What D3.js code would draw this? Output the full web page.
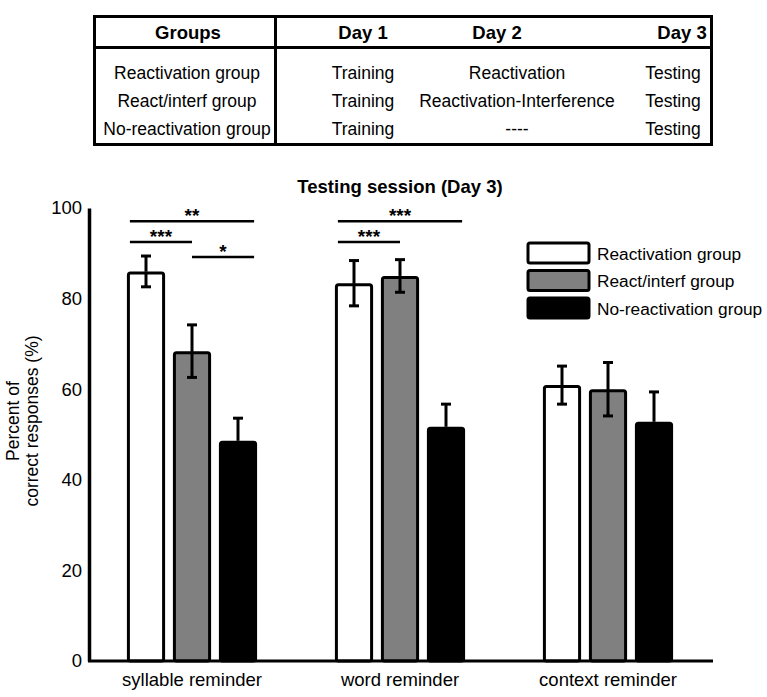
<!DOCTYPE html>
<html><head><meta charset="utf-8">
<script src="https://cdn.jsdelivr.net/npm/d3@7"></script>
<style>body{margin:0;background:#fff;} svg{display:block;font-family:"Liberation Sans",Arial,sans-serif;}</style>
</head><body>
<svg id="c" width="767" height="697"></svg>
<script>
// ---- data ----
const categories = ["syllable reminder", "word reminder", "context reminder"];
const groups = ["Reactivation group", "React/interf group", "No-reactivation group"];
const groupColors = ["#ffffff", "#808080", "#000000"];
const reactivationVals = [86.0, 83.4, 60.9];
const reactInterfVals = [68.4, 85.0, 60.0];
const noReactVals = [48.6, 51.7, 52.8];
const reactivationErr = [3.4, 5.0, 4.2];
const reactInterfErr = [5.8, 3.6, 5.9];
const noReactErr = [5.0, 5.0, 6.6];
const yTicks = [0, 20, 40, 60, 80, 100];
// significance brackets
const sigCategory = ["syllable reminder", "syllable reminder", "syllable reminder", "word reminder", "word reminder"];
const sigFrom = [0, 0, 1, 0, 0];
const sigFromSide = ["edge", "edge", "mid", "edge", "edge"];
const sigTo = [2, 1, 2, 2, 1];
const sigToSide = ["edge", "mid", "edge", "edge", "mid"];
const sigLevel = [97.1, 92.5, 89.2, 97.1, 92.5];
const sigLabel = ["**", "***", "*", "***", "***"];
// table
const tableHeader = ["Groups", "Day 1", "Day 2", "Day 3"];
const tableRows = [
  ["Reactivation group", "Training", "Reactivation", "Testing"],
  ["React/interf group", "Training", "Reactivation-Interference", "Testing"],
  ["No-reactivation group", "Training", "----", "Testing"]
];

const values = [reactivationVals, reactInterfVals, noReactVals];
const errs = [reactivationErr, reactInterfErr, noReactErr];

const svg = d3.select("#c");

// ---- table ----
const tb = svg.append("g");
tb.append("rect").attr("x", 94.5).attr("y", 16.5).attr("width", 617).attr("height", 128)
  .attr("fill", "none").attr("stroke", "#000").attr("stroke-width", 3);
tb.append("line").attr("x1", 94).attr("x2", 712).attr("y1", 47.5).attr("y2", 47.5).attr("stroke", "#000").attr("stroke-width", 3);
tb.append("line").attr("x1", 275.5).attr("x2", 275.5).attr("y1", 16).attr("y2", 145).attr("stroke", "#000").attr("stroke-width", 3);
const colX = [188, 363, 497, 682];
tb.selectAll("text.h").data(tableHeader).join("text").attr("class", "h")
  .attr("x", (d, i) => colX[i]).attr("y", 39).attr("text-anchor", "middle")
  .attr("font-size", 18.5).attr("font-weight", "bold").text(d => d);
const rowColX = [187, 363, 517, 673];
tableRows.forEach((r, ri) => {
  tb.selectAll("text.r" + ri).data(r).join("text").attr("class", "r" + ri)
    .attr("x", (d, i) => rowColX[i]).attr("y", 79 + ri * 28).attr("text-anchor", "middle")
    .attr("font-size", 17.5).text(d => d);
});

// ---- chart ----
const y = d3.scaleLinear().domain([0, 100]).range([661, 208]);
const x0 = d3.scaleBand().domain(categories).range([88, 712]).padding(0);
const x1 = d3.scaleBand().domain(d3.range(3)).range([-69, 69]).paddingInner(0.17).paddingOuter(0.085);

svg.append("text").attr("x", 400).attr("y", 193).attr("text-anchor", "middle")
  .attr("font-size", 18.5).attr("font-weight", "bold").text("Testing session (Day 3)");

// bars
const barData = [];
categories.forEach((c, ci) => groups.forEach((g, gi) => barData.push({c, ci, gi, v: values[gi][ci], e: errs[gi][ci]})));
const cx = d => x0(d.c) + x0.bandwidth() / 2 + x1(d.gi);
const bw = x1.bandwidth();

svg.append("g").selectAll("rect").data(barData).join("rect")
  .attr("x", d => cx(d) + 1.5).attr("width", bw - 3)
  .attr("y", d => y(d.v) + 1.5).attr("height", d => y(0) - y(d.v) - 1.5)
  .attr("rx", 2)
  .attr("fill", d => groupColors[d.gi]).attr("stroke", "#000").attr("stroke-width", 3);
// error bars
const eb2 = svg.append("g").attr("stroke", "#000").attr("stroke-width", 3);
barData.forEach(d => {
  const mx = cx(d) + bw / 2;
  eb2.append("line").attr("x1", mx).attr("x2", mx).attr("y1", y(d.v + d.e)).attr("y2", y(d.v));
  if (d.gi !== 2) {
    eb2.append("line").attr("x1", mx).attr("x2", mx).attr("y1", y(d.v)).attr("y2", y(d.v - d.e));
    eb2.append("line").attr("x1", mx - 5).attr("x2", mx + 5).attr("y1", y(d.v - d.e)).attr("y2", y(d.v - d.e));
  }
  eb2.append("line").attr("x1", mx - 5).attr("x2", mx + 5).attr("y1", y(d.v + d.e)).attr("y2", y(d.v + d.e));
});

// significance
const sig = svg.append("g");
sigCategory.forEach((c, i) => {
  const base = x0(c) + x0.bandwidth() / 2;
  const xa = sigFromSide[i] === "edge" ? base + x1(sigFrom[i]) + 3 : base + x1(sigFrom[i]) + bw / 2;
  const xb = sigToSide[i] === "edge" ? base + x1(sigTo[i]) + bw - 3 : base + x1(sigTo[i]) + bw / 2;
  sig.append("line").attr("x1", xa).attr("x2", xb).attr("y1", y(sigLevel[i])).attr("y2", y(sigLevel[i]))
    .attr("stroke", "#000").attr("stroke-width", 2.5);
  sig.append("text").attr("x", (xa + xb) / 2).attr("y", y(sigLevel[i]) + 1).attr("text-anchor", "middle")
    .attr("font-size", 19).attr("font-weight", "bold").text(sigLabel[i]);
});

// axes
const yAxis = d3.axisLeft(y).tickValues(yTicks).tickSize(0).tickPadding(7);
const ya = svg.append("g").attr("transform", "translate(89,0)").call(yAxis);
ya.select(".domain").attr("stroke-width", 3.5);
ya.selectAll("text").attr("font-size", 18.5).attr("font-family", "Liberation Sans, Arial, sans-serif").attr("fill", "#000");

const xAxis = d3.axisBottom(x0).tickSize(0).tickPadding(12);
const xa = svg.append("g").attr("transform", "translate(0,661)").call(xAxis);
xa.select(".domain").attr("d", "M88,0H713").attr("stroke-width", 3);
xa.selectAll("text").attr("font-size", 18.5).attr("font-family", "Liberation Sans, Arial, sans-serif").attr("fill", "#000");

// y label
const yl = svg.append("text").attr("transform", "translate(19,421) rotate(-90)").attr("text-anchor", "middle").attr("font-size", 17.5);
yl.append("tspan").attr("x", 0).attr("dy", 0).text("Percent of");
yl.append("tspan").attr("x", 0).attr("dy", 19).text("correct responses (%)");

// legend
const lg = svg.append("g");
groups.forEach((g, i) => {
  lg.append("rect").attr("x", 528).attr("y", 243 + i * 27.5).attr("width", 61).attr("height", 20).attr("rx", 2)
    .attr("fill", groupColors[i]).attr("stroke", "#000").attr("stroke-width", 3);
  lg.append("text").attr("x", 597).attr("y", 259.5 + i * 27.5).attr("font-size", 17.3).text(g);
});
</script>
</body></html>
